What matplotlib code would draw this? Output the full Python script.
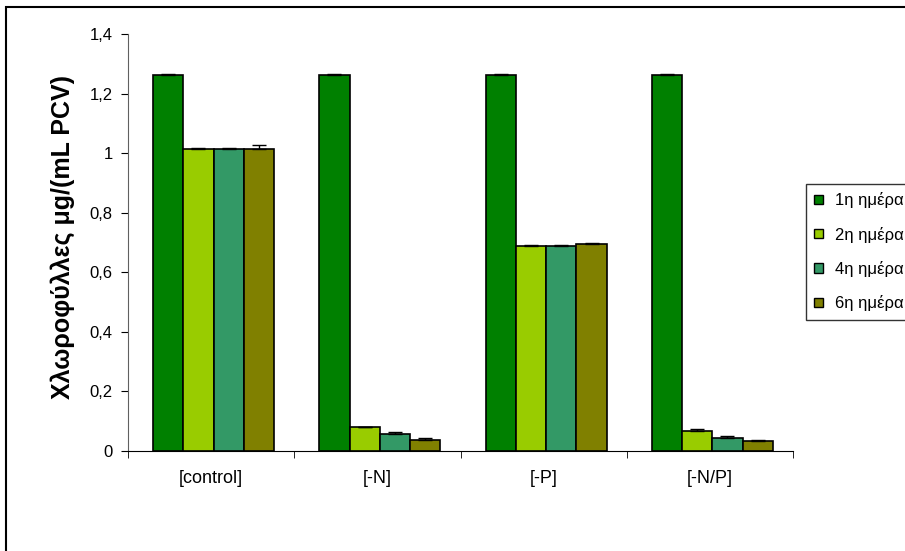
import matplotlib
matplotlib.use("Agg")
import matplotlib.pyplot as plt
import numpy as np
from matplotlib.patches import Rectangle, Patch

plt.rcParams['font.family'] = ['Liberation Sans', 'DejaVu Sans']

categories = ["[control]", "[-N]", "[-P]", "[-N/P]"]
series_names = ["1η ημέρα", "2η ημέρα", "4η ημέρα", "6η ημέρα"]
day1 = [1.262, 1.262, 1.262, 1.262]
day2 = [1.015, 0.079, 0.688, 0.068]
day4 = [1.015, 0.057, 0.688, 0.044]
day6 = [1.015, 0.038, 0.694, 0.033]
err1 = [0.005, 0.005, 0.005, 0.005]
err2 = [0.002, 0.002, 0.002, 0.006]
err4 = [0.002, 0.006, 0.002, 0.006]
err6 = [0.013, 0.005, 0.006, 0.005]
colors = ["#008000", "#99CC00", "#339966", "#808000"]
yticks = [0, 0.2, 0.4, 0.6, 0.8, 1.0, 1.2, 1.4]
ytick_labels = ["0", "0,2", "0,4", "0,6", "0,8", "1", "1,2", "1,4"]

values = [day1, day2, day4, day6]
errors = [err1, err2, err4, err6]

fig = plt.figure(figsize=(9.05, 5.51), dpi=100)
ax = fig.add_axes([128 / 905, 1 - 451 / 551, 665 / 905, 417 / 551])

x = np.arange(len(categories))
bw = 0.182
for i, (vals, errs, c) in enumerate(zip(values, errors, colors)):
    pos = x + 0.015 + (i - 1.5) * bw
    ax.bar(pos, vals, width=bw, color=c, edgecolor="black", linewidth=1.2,
           yerr=[np.zeros(len(errs)), errs], capsize=5,
           error_kw=dict(ecolor="black", elinewidth=1, capthick=1), zorder=2)

ax.set_xlim(-0.5, len(categories) - 0.5)
ax.set_ylim(0, 1.4)
ax.set_yticks(yticks)
ax.set_yticklabels(ytick_labels, fontsize=12)
ax.set_xticks(x)
ax.set_xticklabels(categories, fontsize=13)
ax.tick_params(axis='x', length=0, pad=14)
ax.set_xticks(np.arange(len(categories) + 1) - 0.5, minor=True)
ax.tick_params(axis='x', which='minor', length=5, direction='out')
ax.tick_params(axis='y', length=5, direction='out', pad=6)
ax.spines['top'].set_visible(False)
ax.spines['right'].set_visible(False)
ax.spines['left'].set_color('#606060')
ax.spines['bottom'].set_color('black')
ax.set_ylabel("Χλωροφύλλες μg/(mL PCV)", fontsize=18, fontweight='bold')
ax.yaxis.set_label_coords(-0.079, 0.512)

handles = [Patch(facecolor=c, edgecolor='black', linewidth=1) for c in colors]
leg = fig.legend(handles, series_names, loc='upper left',
                 bbox_to_anchor=(806 / 905, 1 - 184 / 551),
                 fontsize=12, frameon=True, fancybox=False,
                 edgecolor='black', handlelength=0.5, handleheight=0.5,
                 handletextpad=0.75, labelspacing=1.1, borderpad=0.5,
                 borderaxespad=0)
leg.get_frame().set_linewidth(1)

# outer chart frame
fig.patches.append(Rectangle((6 / 905, -0.1), 1.2, 1.1 - 7 / 551,
                             fill=False, edgecolor='black', linewidth=1.5,
                             transform=fig.transFigure, clip_on=False))

fig.savefig("out.png", dpi=100)
